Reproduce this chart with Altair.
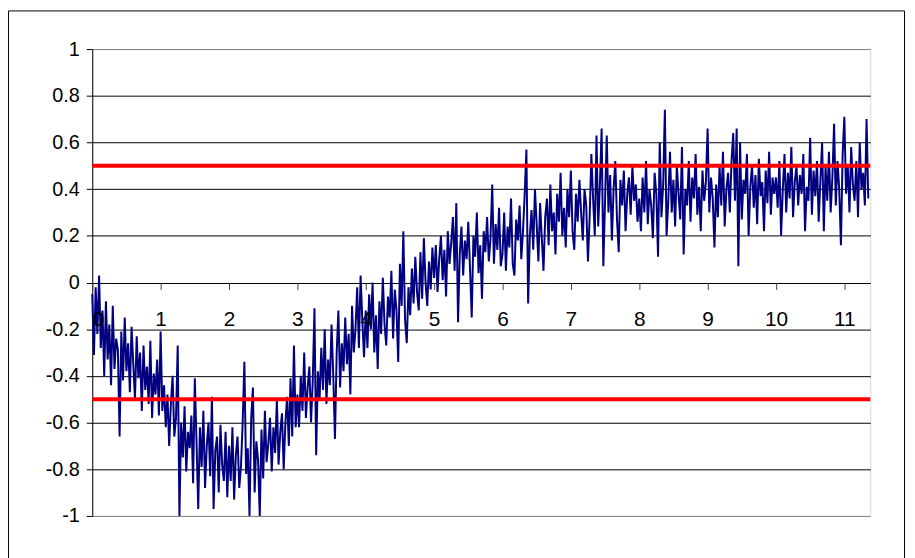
import altair as alt
import pandas as pd

# Signal values, one list per unit of x (step 0.025)
seg0 = [-0.05, -0.31, -0.02, -0.22, 0.03, -0.28, -0.12, -0.40, -0.08, -0.33, -0.18, -0.44, -0.10, -0.37, -0.24, -0.29, -0.66, -0.21, -0.42, -0.15, -0.38, -0.26, -0.47, -0.19, -0.35, -0.50, -0.23, -0.41, -0.30, -0.55, -0.27, -0.46, -0.36, -0.52, -0.25, -0.58, -0.39, -0.48, -0.33, -0.57]
seg1 = [-0.21, -0.55, -0.44, -0.62, -0.48, -0.70, -0.52, -0.40, -0.66, -0.58, -0.27, -1.00, -0.60, -0.75, -0.53, -0.81, -0.64, -0.71, -0.57, -0.86, -0.41, -0.68, -0.97, -0.62, -0.79, -0.55, -0.88, -0.70, -0.60, -0.83, -0.49, -0.97, -0.72, -0.66, -0.90, -0.61, -0.78, -0.85, -0.64, -0.92]
seg2 = [-0.70, -0.85, -0.62, -0.93, -0.74, -0.66, -0.88, -0.79, -0.60, -0.34, -0.82, -0.71, -1.00, -0.58, -0.45, -0.90, -0.68, -0.76, -1.00, -0.63, -0.84, -0.55, -0.77, -0.69, -0.58, -0.81, -0.62, -0.73, -0.50, -0.78, -0.64, -0.56, -0.80, -0.60, -0.49, -0.70, -0.41, -0.66, -0.27, -0.62]
seg3 = [-0.48, -0.62, -0.40, -0.55, -0.30, -0.58, -0.45, -0.36, -0.60, -0.42, -0.11, -0.74, -0.38, -0.50, -0.28, -0.46, -0.20, -0.52, -0.33, -0.44, -0.18, -0.40, -0.67, -0.30, -0.12, -0.45, -0.26, -0.38, -0.15, -0.35, -0.22, -0.48, -0.10, -0.30, -0.20, -0.02, -0.28, 0.03, -0.16, -0.32]
seg4 = [-0.12, -0.28, -0.05, -0.20, 0.00, -0.30, -0.14, -0.37, -0.08, -0.22, 0.02, -0.18, -0.27, -0.06, -0.15, 0.05, -0.24, -0.03, -0.12, -0.34, 0.08, -0.10, 0.22, -0.16, -0.26, -0.02, -0.14, 0.06, -0.09, 0.11, -0.04, -0.12, 0.13, -0.07, 0.19, 0.00, -0.10, 0.09, -0.03, 0.15]
seg5 = [0.02, 0.16, -0.04, 0.10, 0.20, 0.01, 0.14, -0.06, 0.22, 0.08, 0.17, 0.28, 0.05, 0.34, -0.17, 0.12, 0.24, 0.03, 0.18, 0.10, 0.26, 0.06, -0.15, 0.20, 0.11, 0.30, 0.04, 0.16, -0.07, 0.22, 0.13, 0.28, 0.09, 0.19, 0.42, 0.08, 0.25, 0.14, 0.32, 0.07]
seg6 = [0.12, 0.30, 0.05, 0.24, 0.15, 0.36, 0.08, 0.03, 0.27, 0.18, 0.33, 0.10, 0.22, 0.38, 0.57, -0.09, 0.20, 0.31, 0.14, 0.40, 0.25, 0.09, 0.34, 0.19, 0.05, 0.28, 0.36, 0.16, 0.42, 0.22, 0.30, 0.12, 0.38, 0.26, 0.47, 0.20, 0.32, 0.15, 0.40, 0.28]
seg7 = [0.48, 0.22, 0.14, 0.38, 0.26, 0.44, 0.30, 0.18, 0.40, 0.33, 0.09, 0.28, 0.55, 0.36, 0.20, 0.63, 0.24, 0.42, 0.66, 0.07, 0.35, 0.63, 0.30, 0.46, 0.18, 0.40, 0.52, 0.27, 0.13, 0.44, 0.33, 0.48, 0.22, 0.38, 0.45, 0.29, 0.50, 0.35, 0.42, 0.26]
seg8 = [0.36, 0.22, 0.45, 0.30, 0.52, 0.25, 0.40, 0.33, 0.19, 0.47, 0.38, 0.11, 0.60, 0.28, 0.42, 0.74, 0.20, 0.35, 0.56, 0.30, 0.44, 0.24, 0.50, 0.38, 0.27, 0.58, 0.12, 0.40, 0.33, 0.52, 0.26, 0.45, 0.36, 0.55, 0.29, 0.41, 0.22, 0.48, 0.35, 0.43]
seg9 = [0.66, 0.30, 0.45, 0.36, 0.15, 0.42, 0.28, 0.50, 0.33, 0.56, 0.24, 0.40, 0.47, 0.30, 0.52, 0.64, 0.35, 0.66, 0.07, 0.60, 0.27, 0.44, 0.38, 0.55, 0.20, 0.41, 0.50, 0.32, 0.46, 0.25, 0.53, 0.37, 0.43, 0.22, 0.48, 0.34, 0.56, 0.29, 0.45, 0.38]
seg10 = [0.45, 0.32, 0.52, 0.20, 0.40, 0.55, 0.30, 0.47, 0.36, 0.58, 0.28, 0.43, 0.50, 0.33, 0.46, 0.38, 0.55, 0.22, 0.41, 0.35, 0.62, 0.29, 0.48, 0.37, 0.52, 0.26, 0.44, 0.60, 0.22, 0.50, 0.35, 0.56, 0.30, 0.45, 0.68, 0.33, 0.52, 0.40, 0.16, 0.55]
seg11 = [0.71, 0.38, 0.50, 0.30, 0.58, 0.42, 0.35, 0.52, 0.28, 0.60, 0.40, 0.47, 0.33, 0.70, 0.36]

x_step = 0.025
x_max = 11.38
limit_levels = [0.5, -0.5]
x_ticks = [0, 1, 2, 3, 4, 5, 6, 7, 8, 9, 10, 11]
y_ticks = [-1, -0.8, -0.6, -0.4, -0.2, 0, 0.2, 0.4, 0.6, 0.8, 1]

signal = seg0 + seg1 + seg2 + seg3 + seg4 + seg5 + seg6 + seg7 + seg8 + seg9 + seg10 + seg11
sig_df = pd.DataFrame({"x": [round(i * x_step, 4) for i in range(len(signal))], "y": signal})

lim_rows = []
for k, lv in enumerate(limit_levels):
    lim_rows.append({"x": 0, "y": lv, "s": str(k)})
    lim_rows.append({"x": x_max, "y": lv, "s": str(k)})
lim_df = pd.DataFrame(lim_rows)

FONT = "Liberation Sans"

x_scale = alt.Scale(domain=[0, x_max], nice=False, zero=False)
y_scale = alt.Scale(domain=[-1, 1], nice=False)

ylabel = "datum.value == 0 ? '0' : (datum.value < 0 ? '-' : '') + format(abs(datum.value), '')"

frame = alt.Chart(alt.Data(values=[{}])).mark_rect(
    filled=False, stroke="black", strokeWidth=1
).encode(
    x=alt.value(-84.5), x2=alt.value(819.5), y=alt.value(-38.5), y2=alt.value(560)
)

line = alt.Chart(sig_df).mark_line(color="#000080", strokeWidth=2).encode(
    x=alt.X("x:Q", scale=x_scale, title=None,
            axis=alt.Axis(values=x_ticks, orient="bottom", offset=-235.5, domain=False,
                          grid=False, ticks=True, tickSize=7, tickColor="#404040",
                          labelPadding=19, labelFont=FONT, labelFontSize=21,
                          labelColor="black", labelAngle=0, format="d",
                          labelOverlap=False, zindex=1)),
    y=alt.Y("y:Q", scale=y_scale, title=None,
            axis=alt.Axis(values=y_ticks, domain=True, domainColor="black",
                          ticks=True, tickSize=6, tickColor="black",
                          grid=True,
                          gridColor={"condition": {"test": "abs(datum.value) >= 1", "value": "#808080"}, "value": "black"},
                          gridWidth=1, labelPadding=7, labelFont=FONT,
                          labelFontSize=20, labelColor="black", labelExpr=ylabel)),
)

limits = alt.Chart(lim_df).mark_line(color="#FF0000", strokeWidth=4).encode(
    x=alt.X("x:Q", scale=x_scale),
    y=alt.Y("y:Q", scale=y_scale),
    detail="s:N",
)

chart = alt.layer(frame, line, limits).properties(
    width=785, height=471,
    autosize=alt.AutoSizeParams(type="none"),
    padding={"left": 85, "top": 39, "right": 37, "bottom": 40},
).configure_view(stroke="#808080", strokeWidth=1).configure(background="white")

chart.save("out.html", embed_options={"renderer": "svg", "actions": False})
